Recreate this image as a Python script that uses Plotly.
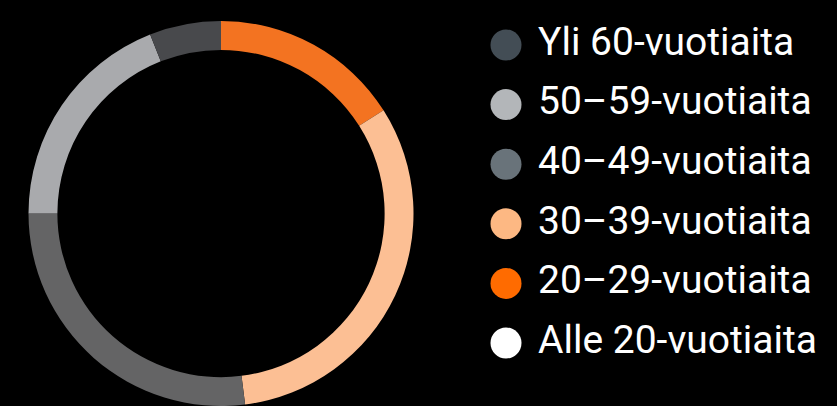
import plotly.graph_objects as go

# Data
categories = ["Yli 60-vuotiaita", "50–59-vuotiaita", "40–49-vuotiaita",
              "30–39-vuotiaita", "20–29-vuotiaita", "Alle 20-vuotiaita"]
shares = [6, 19, 27, 32, 16, 0]
ring_colors = ["#48494c", "#a9aaad", "#646465", "#fcbf94", "#f37321", "#ffffff"]
legend_colors = ["#434d55", "#b3b6b9", "#69737a", "#fdb883", "#ff6b00", "#ffffff"]

W, H = 837, 406

fig = go.Figure()

# Ring: drawn clockwise from 12 o'clock starting with the youngest group
fig.add_trace(go.Pie(
    labels=list(reversed(categories)),
    values=list(reversed(shares)),
    hole=0.85,
    sort=False,
    direction="clockwise",
    rotation=0,
    textinfo="none",
    hoverinfo="label+percent",
    marker=dict(colors=list(reversed(ring_colors)), line=dict(width=0)),
    domain=dict(x=[28.5 / W, 413.5 / W], y=[0, 1 - 21 / H]),
    showlegend=False,
))

# Custom legend built from the category list
fig.add_trace(go.Scatter(
    x=[0] * len(categories),
    y=categories,
    mode="markers",
    marker=dict(size=31, color=legend_colors, line=dict(width=0)),
    cliponaxis=False,
    hoverinfo="skip",
    showlegend=False,
    xaxis="x", yaxis="y",
))
fig.add_trace(go.Scatter(
    x=[1] * len(categories),
    y=categories,
    mode="text",
    text=categories,
    textposition="middle right",
    textfont=dict(family="Roboto", size=39, color="#ffffff"),
    cliponaxis=False,
    hoverinfo="skip",
    showlegend=False,
    xaxis="x", yaxis="y",
))

fig.update_layout(
    width=W, height=H,
    margin=dict(l=0, r=0, t=0, b=0),
    paper_bgcolor="#000000",
    plot_bgcolor="rgba(0,0,0,0)",
    font=dict(family="Roboto", color="#ffffff"),
    xaxis=dict(domain=[474 / W, 570 / W], range=[-1, 2], visible=False, fixedrange=True),
    yaxis=dict(domain=[1 - 343 / H, 1 - 45 / H], type="category",
               categoryorder="array", categoryarray=list(reversed(categories)),
               range=[0, 5], visible=False, fixedrange=True),
    showlegend=False,
)

fig.write_html(
    "out.html",
    config={"displayModeBar": False},
    post_script="document.body.style.margin='0';document.body.style.overflow='hidden';"
                "document.body.style.background='#000';",
)
